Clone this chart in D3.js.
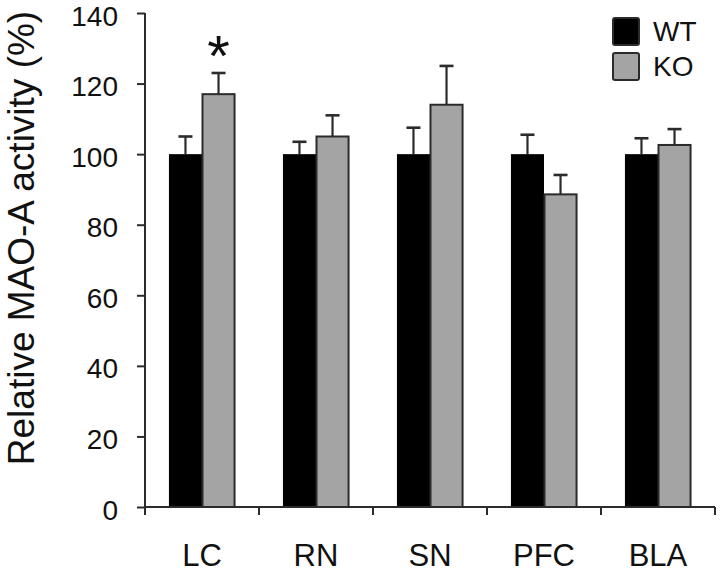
<!DOCTYPE html>
<html>
<head>
<meta charset="utf-8">
<script src="https://cdn.jsdelivr.net/npm/d3@7"></script>
<style>
  html, body { margin: 0; padding: 0; background: #fff; }
  svg { display: block; font-family: "Liberation Sans", Arial, Helvetica, sans-serif; }
</style>
</head>
<body>
<svg id="chart" width="720" height="572"></svg>
<script>
const categories = ["LC", "RN", "SN", "PFC", "BLA"];
const seriesNames = ["WT", "KO"];
const wtValues = [100, 100, 100, 100, 100];
const wtErrors = [5, 3.5, 7.5, 5.5, 4.5];
const koValues = [117, 105, 114, 88.6, 102.6];
const koErrors = [6, 6, 11, 5.5, 4.5];
const yTicks = [0, 20, 40, 60, 80, 100, 120, 140];
const significant = ["LC"];
const colors = { WT: "#000000", KO: "#a4a4a4" };

const svg = d3.select("#chart");
const mLeft = 145, mRight = 715, mTop = 13, mBottom = 507;

const x0 = d3.scaleBand().domain(categories).range([mLeft, mRight]).paddingInner(0.42).paddingOuter(0.21);
const x1 = d3.scaleBand().domain(seriesNames).range([0, x0.bandwidth()]);
const y = d3.scaleLinear().domain([0, 140]).range([mBottom, mTop]);

const rows = categories.map((c, i) => ({
  cat: c,
  items: [
    { s: "WT", v: wtValues[i], e: wtErrors[i] },
    { s: "KO", v: koValues[i], e: koErrors[i] }
  ]
}));

const ink = "#2b2b2b";

const groups = svg.append("g").selectAll("g").data(rows).join("g")
  .attr("transform", d => `translate(${x0(d.cat)},0)`);

groups.selectAll("g.err").data(d => d.items).join("g").attr("class", "err").each(function(d) {
  const g = d3.select(this);
  const cx = x1(d.s) + x1.bandwidth() / 2;
  g.append("line").attr("x1", cx).attr("x2", cx).attr("y1", y(d.v)).attr("y2", y(d.v + d.e))
    .attr("stroke", ink).attr("stroke-width", 2.2);
  g.append("line").attr("x1", cx - 7).attr("x2", cx + 7).attr("y1", y(d.v + d.e)).attr("y2", y(d.v + d.e))
    .attr("stroke", ink).attr("stroke-width", 2.6);
});

groups.selectAll("rect").data(d => d.items).join("rect")
  .attr("x", d => x1(d.s) + (d.s === "KO" ? 0.5 : 0))
  .attr("y", d => y(d.v))
  .attr("width", d => x1.bandwidth() - (d.s === "KO" ? 1 : 0))
  .attr("height", d => y(0) - y(d.v))
  .attr("fill", d => colors[d.s])
  .attr("stroke", d => d.s === "KO" ? ink : "none")
  .attr("stroke-width", 2);

svg.append("g").selectAll("text").data(rows.filter(r => significant.includes(r.cat))).join("text")
  .attr("x", d => x0(d.cat) + x1("KO") + x1.bandwidth() / 2)
  .attr("y", d => y(d.items[1].v + d.items[1].e) + 3)
  .attr("text-anchor", "middle")
  .attr("font-size", 58)
  .attr("fill", "#111")
  .text("*");

const yAxis = d3.axisLeft(y).tickValues(yTicks).tickSize(8).tickPadding(19).tickFormat(d3.format("d"));
const gy = svg.append("g").attr("transform", `translate(${mLeft},0)`).call(yAxis);
gy.select(".domain").attr("d", `M0,${mTop}V${mBottom + 7}`).attr("stroke", ink).attr("stroke-width", 2);
gy.selectAll(".tick line").attr("stroke", ink).attr("stroke-width", 2);
gy.selectAll(".tick text").attr("font-size", 28).attr("dy", "0.43em").attr("fill", "#111").attr("font-family", "Liberation Sans, Arial, sans-serif");

const bounds = categories.map(c => x0(c) - x0.step() * 0.21).concat([mRight]);
const gx = svg.append("g");
gx.append("line").attr("x1", mLeft).attr("x2", mRight).attr("y1", mBottom).attr("y2", mBottom)
  .attr("stroke", ink).attr("stroke-width", 2);
gx.selectAll("line.t").data(bounds).join("line").attr("class", "t")
  .attr("x1", d => d).attr("x2", d => d).attr("y1", mBottom).attr("y2", mBottom + 8)
  .attr("stroke", ink).attr("stroke-width", 2);
gx.selectAll("text").data(categories).join("text")
  .attr("x", d => x0(d) + x0.bandwidth() / 2)
  .attr("y", 566)
  .attr("text-anchor", "middle")
  .attr("font-size", 31)
  .attr("fill", "#111")
  .text(d => d);

svg.append("text")
  .attr("transform", "translate(34,238) rotate(-90)")
  .attr("text-anchor", "middle")
  .attr("font-size", 37)
  .attr("fill", "#111")
  .text("Relative MAO-A activity (%)");

const legend = svg.append("g").selectAll("g").data(seriesNames).join("g")
  .attr("transform", (d, i) => `translate(612,${17 + i * 35})`);
legend.append("rect").attr("x", 1).attr("y", 1).attr("width", 26).attr("height", 27).attr("rx", 2)
  .attr("fill", d => colors[d]).attr("stroke", ink).attr("stroke-width", 2);
legend.append("text").attr("x", 41).attr("y", 24).attr("font-size", 28).attr("fill", "#111").text(d => d);
</script>
</body>
</html>
